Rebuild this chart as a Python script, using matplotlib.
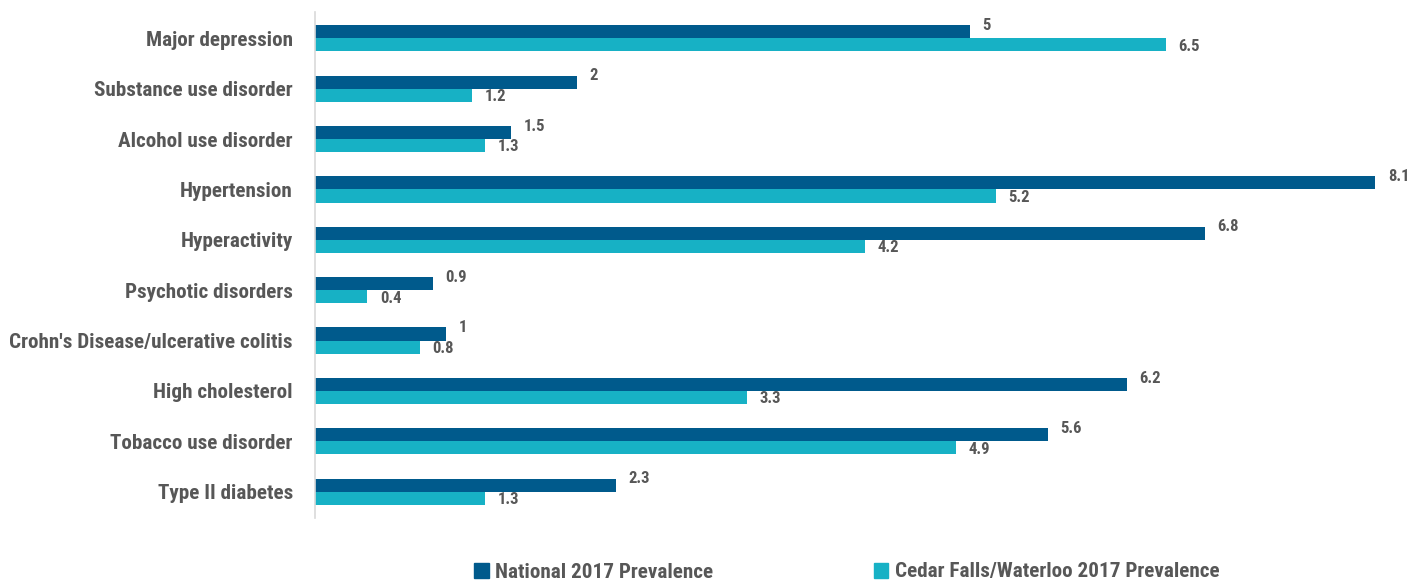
import matplotlib
matplotlib.use("Agg")
import matplotlib.pyplot as plt
from matplotlib.patches import Patch

categories = ["Major depression", "Substance use disorder", "Alcohol use disorder",
              "Hypertension", "Hyperactivity", "Psychotic disorders",
              "Crohn's Disease/ulcerative colitis", "High cholesterol",
              "Tobacco use disorder", "Type II diabetes"]
national = [5, 2, 1.5, 8.1, 6.8, 0.9, 1, 6.2, 5.6, 2.3]
local = [6.5, 1.2, 1.3, 5.2, 4.2, 0.4, 0.8, 3.3, 4.9, 1.3]
series_names = ["National 2017 Prevalence", "Cedar Falls/Waterloo 2017 Prevalence"]

DARK = "#005a8c"
CYAN = "#17b1c5"
TXT = "#575757"

# condensed bold look; falls back to DejaVu Sans Condensed
plt.rcParams['font.family'] = ['Roboto Condensed', 'DejaVu Sans']
plt.rcParams['font.stretch'] = 'condensed'
plt.rcParams['font.weight'] = 'bold'

fig = plt.figure(figsize=(14.18, 5.81), dpi=100)
ax = fig.add_axes([315/1418, 1 - 518/581, 1 - 315/1418, (518 - 12)/581])

h = 0.26
ypos = list(range(len(categories)))
ax.barh([y - h/2 for y in ypos], national, height=h, color=DARK)
ax.barh([y + h/2 for y in ypos], local, height=h, color=CYAN)

def fmt(v):
    return ("%g" % v)

for y, v in zip(ypos, national):
    ax.annotate(fmt(v), (v, y - h/2), xytext=(9, 4.5), textcoords="offset points",
                ha="left", va="center", fontsize=12, color=TXT, fontweight="bold",
                annotation_clip=False)
for y, v in zip(ypos, local):
    ax.annotate(fmt(v), (v, y + h/2), xytext=(9, -1), textcoords="offset points",
                ha="left", va="center", fontsize=12, color=TXT, fontweight="bold",
                annotation_clip=False)

ax.set_xlim(0, (1418 - 315) / 130.9)
ax.set_ylim(len(categories) - 0.48, -0.52)
ax.set_yticks(ypos)
ax.set_yticklabels(categories, fontsize=15.2, color=TXT, fontweight="bold")
ax.tick_params(axis="y", length=0, pad=16)
ax.set_xticks([])
for s in ["top", "right", "bottom"]:
    ax.spines[s].set_visible(False)
ax.spines["left"].set_color("#d9d9d9")
ax.spines["left"].set_linewidth(1.2)

handles = [Patch(color=DARK), Patch(color=CYAN)]
fig.legend(handles, series_names, loc="center", bbox_to_anchor=(0.597, 1 - 572/581),
           ncol=2, frameon=False, handlelength=0.7, handleheight=0.7,
           handletextpad=0.3, columnspacing=7.6, labelcolor=TXT,
           prop={"weight": "bold", "size": 15.2, "stretch": "condensed",
                 "family": ['Roboto Condensed', 'DejaVu Sans']})

fig.savefig("out.png", dpi=100)
